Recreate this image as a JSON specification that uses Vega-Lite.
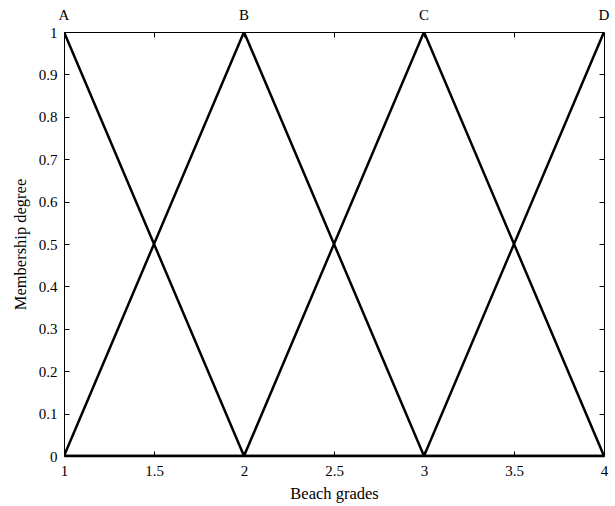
{
  "$schema": "https://vega.github.io/schema/vega-lite/v6.json",
  "width": 540,
  "height": 424,
  "autosize": "none",
  "padding": {"left": 64, "top": 32, "right": 11, "bottom": 50},
  "background": "white",
  "config": {
    "view": {"stroke": "black", "strokeWidth": 1},
    "font": "Liberation Serif",
    "axis": {"grid": false, "domainColor": "black", "tickColor": "black", "labelColor": "black", "titleColor": "black", "labelFont": "Liberation Serif", "titleFont": "Liberation Serif", "labelFontSize": 15, "titleFontSize": 16.5, "titleFontWeight": "normal"}
  },
  "datasets": {
    "mf": [
      {"set": "A", "x": 1, "y": 1}, {"set": "A", "x": 2, "y": 0}, {"set": "A", "x": 3, "y": 0}, {"set": "A", "x": 4, "y": 0},
      {"set": "B", "x": 1, "y": 0}, {"set": "B", "x": 2, "y": 1}, {"set": "B", "x": 3, "y": 0}, {"set": "B", "x": 4, "y": 0},
      {"set": "C", "x": 1, "y": 0}, {"set": "C", "x": 2, "y": 0}, {"set": "C", "x": 3, "y": 1}, {"set": "C", "x": 4, "y": 0},
      {"set": "D", "x": 1, "y": 0}, {"set": "D", "x": 2, "y": 0}, {"set": "D", "x": 3, "y": 0}, {"set": "D", "x": 4, "y": 1}
    ],
    "labels": [
      {"label": "A", "x": 1, "y": 1},
      {"label": "B", "x": 2, "y": 1},
      {"label": "C", "x": 3, "y": 1},
      {"label": "D", "x": 4, "y": 1}
    ]
  },
  "layer": [
    {
      "data": {"name": "mf"},
      "mark": {"type": "line", "color": "black", "strokeWidth": 2.5, "clip": true},
      "encoding": {
        "x": {"field": "x", "type": "quantitative", "scale": {"domain": [1, 4], "nice": false, "zero": false},
              "axis": {"orient": "bottom", "title": "Beach grades", "values": [1, 1.5, 2, 2.5, 3, 3.5, 4], "format": "~g", "labelFont": "Liberation Serif", "titleFont": "Liberation Serif", "ticks": false, "labelPadding": 7, "titlePadding": 7, "domainWidth": 1.5, "labelFlush": false}},
        "y": {"field": "y", "type": "quantitative", "scale": {"domain": [0, 1], "nice": false},
              "axis": {"orient": "left", "title": "Membership degree", "values": [0, 0.1, 0.2, 0.3, 0.4, 0.5, 0.6, 0.7, 0.8, 0.9, 1], "format": "~g", "labelFont": "Liberation Serif", "titleFont": "Liberation Serif", "ticks": false, "labelPadding": 7, "titlePadding": 10, "labelFlush": false}},
        "detail": {"field": "set"}
      }
    },
    {
      "data": {"name": "labels"},
      "mark": {"type": "text", "font": "Liberation Serif", "fontSize": 15, "color": "black", "baseline": "alphabetic", "dy": -12},
      "encoding": {
        "x": {"field": "x", "type": "quantitative",
              "axis": {"orient": "top", "title": null, "labels": false, "domain": false, "grid": true, "gridColor": "black", "gridWidth": 1, "gridOpacity": 1, "gridDash": [5, 414, 5, 1000], "ticks": false, "values": [1.5, 2, 2.5, 3, 3.5]}},
        "y": {"field": "y", "type": "quantitative",
              "axis": {"orient": "right", "title": null, "labels": false, "domain": false, "grid": true, "gridColor": "black", "gridWidth": 1, "gridOpacity": 1, "gridDash": [5, 530, 5, 1000], "ticks": false, "values": [0.1, 0.2, 0.3, 0.4, 0.5, 0.6, 0.7, 0.8, 0.9]}},
        "text": {"field": "label"}
      }
    }
  ],
  "resolve": {"axis": {"x": "independent", "y": "independent"}}
}
